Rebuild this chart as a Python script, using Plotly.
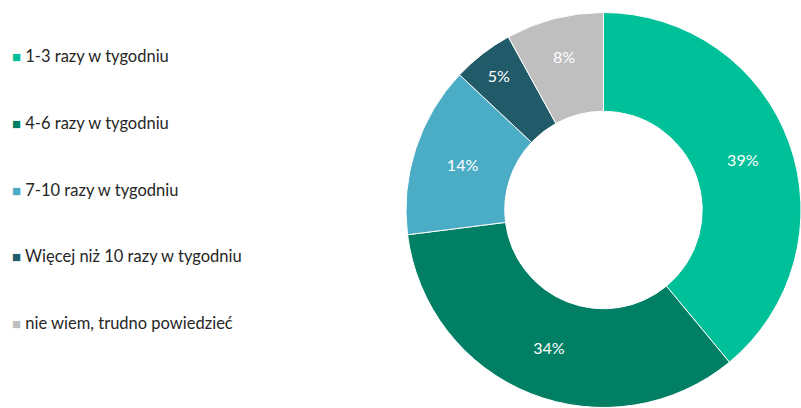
import plotly.graph_objects as go

# Survey answers and their shares (%)
categories = [
    "1-3 razy w tygodniu",
    "4-6 razy w tygodniu",
    "7-10 razy w tygodniu",
    "Więcej niż 10 razy w tygodniu",
    "nie wiem, trudno powiedzieć",
]
shares = [39, 34, 14, 5, 8]
colors = ["#00C09A", "#007F64", "#4BACC6", "#215A69", "#BFBFBF"]

W, H = 801, 408
FONT = "Lato"

fig = go.Figure()

fig.add_trace(
    go.Pie(
        labels=categories,
        values=shares,
        hole=0.5,
        sort=False,
        direction="clockwise",
        rotation=0,
        marker=dict(colors=colors, line=dict(color="#FFFFFF", width=1)),
        texttemplate="%{value}%",
        textposition="inside",
        insidetextorientation="horizontal",
        textfont=dict(family=FONT, size=16, color="#FFFFFF"),
        showlegend=False,
        hoverinfo="label+value",
        domain=dict(x=[406 / W, 1.0], y=[0.0, 396 / H]),
    )
)

# Legend drawn as text rows: coloured square followed by the category name
row_top = 56
row_step = 66.8
for i, (name, col) in enumerate(zip(categories, colors)):
    y_px = row_top + i * row_step
    fig.add_annotation(
        x=10 / W,
        y=1 - y_px / H,
        xref="paper",
        yref="paper",
        xanchor="left",
        yanchor="middle",
        showarrow=False,
        align="left",
        text=f'<span style="color:{col};font-size:15px">■</span> {name}',
        font=dict(family=FONT, size=16.5, color="#262626"),
    )

fig.update_layout(
    width=W,
    height=H,
    margin=dict(l=0, r=0, t=0, b=0),
    paper_bgcolor="#FFFFFF",
    plot_bgcolor="#FFFFFF",
    font=dict(family=FONT),
)

fig.write_html("out.html")
